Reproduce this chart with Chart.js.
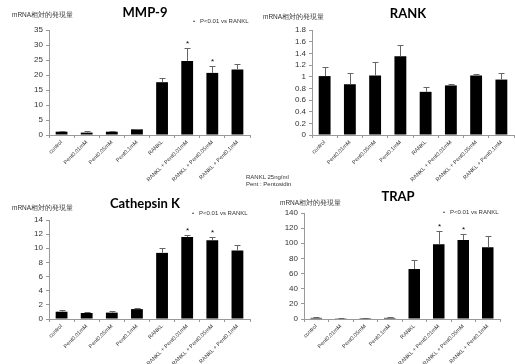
<!DOCTYPE html>
<html>
<head>
<meta charset="utf-8">
<script src="https://cdn.jsdelivr.net/npm/chart.js@4"></script>
<style>
  body { margin: 0; background: #fff; width: 515px; height: 364px; position: relative; overflow: hidden; font-family: "Liberation Sans", Arial, sans-serif; }
  canvas { position: absolute; }
  .t { position: absolute; white-space: nowrap; color: #333; }
  .titulo { font-family: Lato, sans-serif; font-weight: bold; font-size: 13px; color: #000; transform: translate(-50%, -50%); }
  .ylab { font-size: 6.5px; transform: translateY(-50%); }
  .leyenda { font-size: 6px; transform: translateY(-50%); }
  .nota { font-size: 6px; line-height: 7px; }
</style>
</head>
<body>
<canvas id="g1"></canvas>
<canvas id="g2"></canvas>
<canvas id="g3"></canvas>
<canvas id="g4"></canvas>

<div class="t titulo" style="left:145px;top:12px">MMP-9</div>
<div class="t titulo" style="left:408px;top:13px">RANK</div>
<div class="t titulo" style="left:145px;top:203px">Cathepsin K</div>
<div class="t titulo" style="left:398px;top:196px">TRAP</div>

<div class="t ylab" style="left:12px;top:15px">mRNA相対的発現量</div>
<div class="t ylab" style="left:263px;top:17px">mRNA相対的発現量</div>
<div class="t ylab" style="left:12px;top:208px">mRNA相対的発現量</div>
<div class="t ylab" style="left:280px;top:203px">mRNA相対的発現量</div>

<div class="t leyenda" style="left:193px;top:21px">•&nbsp;&nbsp;&nbsp;P&lt;0.01 vs RANKL</div>
<div class="t leyenda" style="left:192px;top:213px">•&nbsp;&nbsp;&nbsp;P&lt;0.01 vs RANKL</div>
<div class="t leyenda" style="left:443px;top:212px">•&nbsp;&nbsp;&nbsp;P&lt;0.01 vs RANKL</div>

<div class="t nota" style="left:246px;top:174px">RANKL 25ng/ml<br>Pent : Pentosidin</div>

<script>
const categorias = ["control", "Pent0.01mM", "Pent0.05mM", "Pent0.1mM", "RANKL",
  "RANKL + Pent0.01mM", "RANKL + Pent0.05mM", "RANKL + Pent0.1mM"];

const mmp9 = [1.1, 0.8, 1.1, 1.9, 17.6, 24.7, 20.7, 21.8];
const mmp9Err = [0.2, 0.4, 0.4, 0.1, 1.4, 4.2, 2.2, 1.8];

const rank = [1.01, 0.87, 1.02, 1.35, 0.74, 0.85, 1.02, 0.95];
const rankErr = [0.16, 0.19, 0.23, 0.2, 0.09, 0.03, 0.03, 0.11];

const catK = [1.03, 0.85, 0.9, 1.4, 9.35, 11.6, 11.13, 9.67];
const catKErr = [0.24, 0.15, 0.18, 0.15, 0.65, 0.23, 0.47, 0.73];

const trap = [1.5, 1, 1.2, 1.5, 66, 98.7, 104.4, 94.7];
const trapErr = [0.5, 0.4, 0.4, 0.5, 12, 18, 8.5, 14.3];

const significativos = [5, 6];

// barras de error y asteriscos
const barrasError = {
  id: "barrasError",
  afterDatasetsDraw(chart, args, opts) {
    const ctx = chart.ctx;
    const y = chart.scales.y;
    const meta = chart.getDatasetMeta(0);
    ctx.save();
    ctx.strokeStyle = "#666";
    ctx.lineWidth = 1;
    ctx.fillStyle = "#000";
    ctx.font = "8px 'Liberation Sans'";
    ctx.textAlign = "center";
    meta.data.forEach((bar, i) => {
      const x = Math.round(bar.x) + 0.5;
      const arriba = Math.round(y.getPixelForValue(opts.valores[i] + opts.errores[i])) + 0.5;
      ctx.beginPath();
      ctx.moveTo(x, bar.y);
      ctx.lineTo(x, arriba);
      ctx.moveTo(x - 3, arriba);
      ctx.lineTo(x + 3, arriba);
      ctx.stroke();
      if (opts.estrellas.includes(i)) {
        ctx.fillText("*", x, arriba - 3);
      }
    });
    ctx.restore();
  }
};

function crearGrafica(id, caja, area, valores, errores, maximo, paso, estrellas) {
  const canvas = document.getElementById(id);
  canvas.style.left = caja.x + "px";
  canvas.style.top = caja.y + "px";
  canvas.width = caja.w;
  canvas.height = caja.h;

  const anchoY = area.l - caja.x;
  const altoX = caja.y + caja.h - area.b;

  const config = {
    type: "bar",
    data: {
      labels: categorias,
      datasets: [{
        data: valores,
        backgroundColor: "#000",
        barPercentage: 0.47,
        categoryPercentage: 1
      }]
    },
    options: {
      responsive: false,
      animation: false,
      layout: {
        padding: { top: area.t - caja.y, right: caja.x + caja.w - area.r, bottom: 0, left: 0 }
      },
      plugins: {
        legend: { display: false },
        tooltip: { enabled: false },
        barrasError: { valores: valores, errores: errores, estrellas: estrellas }
      },
      scales: {
        x: {
          grid: { display: true, drawOnChartArea: false, drawTicks: true, tickLength: 3, color: "#999", offset: true },
          border: { display: true, color: "#999" },
          ticks: { autoSkip: false, minRotation: 45, maxRotation: 45, color: "#333", padding: 1,
            font: { size: 5.5, family: "'Liberation Sans'" } },
          afterFit(s) { s.height = altoX; }
        },
        y: {
          min: 0,
          max: maximo,
          grid: { drawOnChartArea: false, tickLength: 3, color: "#999" },
          border: { display: true, color: "#999" },
          ticks: { stepSize: paso, autoSkip: false, color: "#333", padding: 3,
            font: { size: 8, family: "'Liberation Sans'" },
            callback: (v) => String(Number(v.toFixed(1))) },
          afterFit(s) { s.width = anchoY; }
        }
      }
    },
    plugins: [barrasError]
  };
  return new Chart(canvas, config);
}

crearGrafica("g1", { x: 0, y: 0, w: 257, h: 200 }, { l: 49, r: 250, t: 30, b: 135 }, mmp9, mmp9Err, 35, 5, significativos);
crearGrafica("g2", { x: 257, y: 0, w: 258, h: 200 }, { l: 312, r: 514, t: 30, b: 135 }, rank, rankErr, 1.8, 0.2, []);
crearGrafica("g3", { x: 0, y: 182, w: 257, h: 182 }, { l: 49, r: 250, t: 220, b: 319 }, catK, catKErr, 14, 2, significativos);
crearGrafica("g4", { x: 257, y: 182, w: 258, h: 182 }, { l: 304, r: 500, t: 213, b: 319 }, trap, trapErr, 140, 20, significativos);
</script>
</body>
</html>
